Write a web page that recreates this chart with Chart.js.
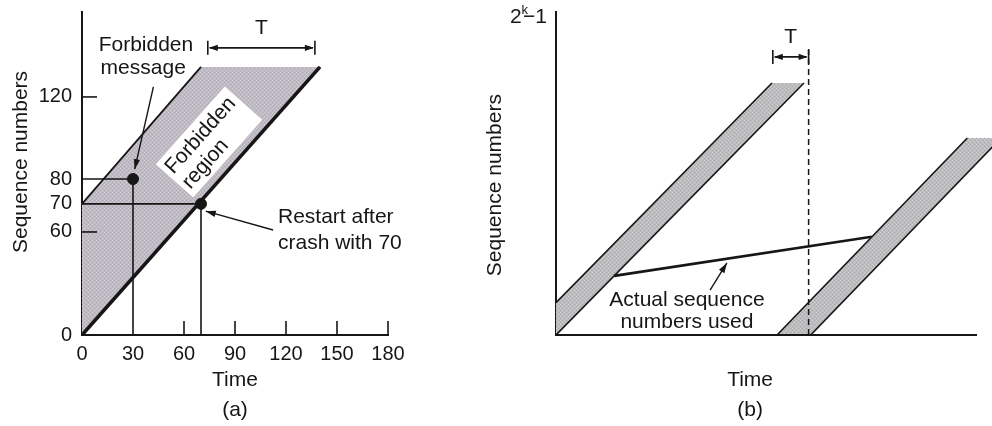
<!DOCTYPE html>
<html>
<head>
<meta charset="utf-8">
<title>Forbidden region</title>
<script src="https://cdn.jsdelivr.net/npm/chart.js@4.4.1/dist/chart.umd.min.js"></script>
<style>
  body { margin: 0; background: #fff; width: 992px; height: 426px; overflow: hidden; position: relative; }
  canvas { position: absolute; top: 0; }
  #chartA { left: 0; }
  #chartB { left: 480px; }
</style>
</head>
<body>
<canvas id="chartA" width="480" height="426"></canvas>
<canvas id="chartB" width="512" height="426"></canvas>
<script>
// ---- panel (a) ----
const timeTicksA = [0, 30, 60, 90, 120, 150, 180];
const seqTicksA = [0, 60, 70, 80, 120];
const innerTimeTicksA = [60, 90, 120, 150, 180];
const innerSeqTicksA = [60, 120];
const forbiddenRegionA = [{x: 0, y: 0}, {x: 0, y: 70}, {x: 70, y: 140}, {x: 140, y: 140}, {x: 0, y: 0}];
const lowerEdgeA = [{x: 0, y: 0}, {x: 140, y: 140}];
const upperEdgeA = [{x: 0, y: 70}, {x: 70, y: 140}];
const msgGuideA = [{x: 0, y: 80}, {x: 30, y: 80}, {x: 30, y: 0}];
const restartGuideA = [{x: 0, y: 70}, {x: 70, y: 70}, {x: 70, y: 0}];
const markedPointsA = [{x: 30, y: 80}, {x: 70, y: 70}];
const tSpanA = [74, 137];
// the drawing is not to scale: where each sequence number sits along the axis (0 = bottom, 1 = top)
const seqKnotValues = [0, 60, 70, 80, 120, 140, 170];
const seqKnotSpots = [0, 0.319, 0.406, 0.483, 0.737, 0.830, 1];

// ---- panel (b) ----
const band1B = [{x: 0, y: 0}, {x: 0, y: 10}, {x: 51.3, y: 78}, {x: 58.9, y: 78}, {x: 0, y: 0}];
const band1LowerB = [{x: 0, y: 0}, {x: 58.9, y: 78}];
const band1UpperB = [{x: 0, y: 10}, {x: 51.3, y: 78}];
const band2B = [{x: 52.5, y: 0}, {x: 97.7, y: 61}, {x: 105.7, y: 61}, {x: 60.5, y: 0}, {x: 52.5, y: 0}];
const band2LeftB = [{x: 52.5, y: 0}, {x: 97.7, y: 61}];
const band2RightB = [{x: 60.5, y: 0}, {x: 105.7, y: 61}];
const actualSeqB = [{x: 13.8, y: 18.3}, {x: 75, y: 30.4}];
const crashLineB = [{x: 60, y: 0}, {x: 60, y: 89}];
const tSpanB = [51.5, 60];

const ink = '#161616';
const fontFamily = "'Liberation Sans', Arial, Helvetica, sans-serif";
Chart.defaults.font.family = fontFamily;
Chart.defaults.color = ink;

class KnottedScale extends Chart.LinearScale {
  getPixelForValue(v) {
    const vals = seqKnotValues, spots = seqKnotSpots;
    let i = 1;
    while (i < vals.length - 1 && v > vals[i]) i++;
    const t = (v - vals[i - 1]) / (vals[i] - vals[i - 1]);
    return this.getPixelForDecimal(spots[i - 1] + t * (spots[i] - spots[i - 1]));
  }
  getValueForPixel(p) {
    const d = this.getDecimalForPixel(p);
    const vals = seqKnotValues, spots = seqKnotSpots;
    let i = 1;
    while (i < spots.length - 1 && d > spots[i]) i++;
    const t = (d - spots[i - 1]) / (spots[i] - spots[i - 1]);
    return vals[i - 1] + t * (vals[i] - vals[i - 1]);
  }
}
KnottedScale.id = 'knotted';
KnottedScale.defaults = Chart.LinearScale.defaults;
Chart.register(KnottedScale);

function stipple(base, light, dark) {
  const c = document.createElement('canvas');
  c.width = 4; c.height = 4;
  const g = c.getContext('2d');
  g.fillStyle = base; g.fillRect(0, 0, 4, 4);
  g.fillStyle = light;
  g.fillRect(0, 0, 1, 1); g.fillRect(2, 2, 1, 1);
  g.fillStyle = dark;
  g.fillRect(2, 0, 1, 1); g.fillRect(0, 2, 1, 1);
  return g.createPattern(c, 'repeat');
}

function seg(ctx, x1, y1, x2, y2) {
  ctx.beginPath(); ctx.moveTo(x1, y1); ctx.lineTo(x2, y2); ctx.stroke();
}

function arrowHead(ctx, x1, y1, x2, y2, len, half) {
  const a = Math.atan2(y2 - y1, x2 - x1);
  const bx = x2 - len * Math.cos(a), by = y2 - len * Math.sin(a);
  ctx.beginPath();
  ctx.moveTo(x2, y2);
  ctx.lineTo(bx + half * Math.sin(a), by - half * Math.cos(a));
  ctx.lineTo(bx - half * Math.sin(a), by + half * Math.cos(a));
  ctx.closePath();
  ctx.fill();
}

function arrow(ctx, x1, y1, x2, y2) {
  seg(ctx, x1, y1, x2, y2);
  arrowHead(ctx, x1, y1, x2, y2, 10, 3.2);
}

function bracket(ctx, xl, xr, yc, label) {
  seg(ctx, xl, yc - 7, xl, yc + 7);
  seg(ctx, xr, yc - 7, xr, yc + 7);
  const mid = (xl + xr) / 2;
  seg(ctx, xl + 2, yc, xr - 2, yc);
  arrowHead(ctx, mid, yc, xl + 1, yc, 9, 3.2);
  arrowHead(ctx, mid, yc, xr - 1, yc, 9, 3.2);
  ctx.textAlign = 'center';
  ctx.fillText(label, mid, yc - 20);
}

function sideTitle(ctx, text, x, y) {
  ctx.save();
  ctx.translate(x, y);
  ctx.rotate(-Math.PI / 2);
  ctx.textAlign = 'center';
  ctx.fillText(text, 0, 0);
  ctx.restore();
}

const lineDs = (data, width, order) => ({
  data, showLine: true, borderColor: ink, borderWidth: width, pointRadius: 0, fill: false, order
});

// keep the plot box exactly where the layout padding puts it
const noEdgePadding = s => { s.paddingTop = 0; s.paddingBottom = 0; s.paddingLeft = 0; s.paddingRight = 0; };

const annotA = {
  id: 'annotA',
  afterDatasetsDraw(chart) {
    const {ctx, scales: {x, y}} = chart;
    const X = v => x.getPixelForValue(v), Y = v => y.getPixelForValue(v);
    ctx.save();
    ctx.strokeStyle = ink; ctx.fillStyle = ink; ctx.lineWidth = 1.6;
    innerTimeTicksA.forEach(v => seg(ctx, X(v), Y(0), X(v), Y(0) - 14));
    innerSeqTicksA.forEach(v => seg(ctx, X(0), Y(v), X(0) + 15, Y(v)));

    ctx.font = '21px ' + fontFamily;
    ctx.textBaseline = 'middle';
    bracket(ctx, X(tSpanA[0]), X(tSpanA[1]), Y(150.4), 'T');
    sideTitle(ctx, 'Sequence numbers', X(0) - 61, Y(88.3));

    ctx.lineWidth = 1.4;
    arrow(ctx, X(42), Y(126.7), X(31), Y(84.8));
    arrow(ctx, X(112.4), Y(60.7), X(72.8), Y(67.4));

    ctx.textAlign = 'center';
    ctx.fillText('Forbidden', X(37.6), Y(152));
    ctx.fillText('message', X(36), Y(139.3));
    ctx.textAlign = 'left';
    ctx.fillText('Restart after', X(115.3), Y(65.4));
    ctx.fillText('crash with 70', X(115.3), Y(53.6));

    const ang = Math.atan2(Y(140) - Y(0), X(140) - X(0));
    ctx.translate(X(74.7), Y(98));
    ctx.rotate(ang);
    ctx.fillStyle = '#fff';
    ctx.fillRect(-52, -25, 104, 50);
    ctx.fillStyle = ink;
    ctx.textAlign = 'left';
    ctx.fillText('Forbidden', -48, -10.5);
    ctx.fillText('region', -48, 12);
    ctx.restore();
  }
};

const annotB = {
  id: 'annotB',
  afterDatasetsDraw(chart) {
    const {ctx, scales: {x, y}} = chart;
    const X = v => x.getPixelForValue(v), Y = v => y.getPixelForValue(v);
    ctx.save();
    ctx.strokeStyle = ink; ctx.fillStyle = ink;
    ctx.lineWidth = 2;
    seg(ctx, X(0), Y(0), X(100), Y(0));

    ctx.lineWidth = 1.6;
    ctx.font = '21px ' + fontFamily;
    ctx.textBaseline = 'middle';
    bracket(ctx, X(tSpanB[0]), X(tSpanB[1]), Y(86.1), 'T');
    sideTitle(ctx, 'Sequence numbers', X(0) - 61, Y(46.4));

    ctx.lineWidth = 1.4;
    arrow(ctx, X(36.6), Y(13.9), X(40.6), Y(22.3));
    ctx.textAlign = 'center';
    ctx.fillText('Actual sequence', X(31.1), Y(10.8));
    ctx.fillText('numbers used', X(31.1), Y(4.0));

    ctx.fillText('Time', X(46.1), Y(0) + 45);
    ctx.fillText('(b)', X(46.1), Y(0) + 75);

    // 2^k - 1 label at top of axis
    const r = X(0) - 9, yc = Y(98.5);
    ctx.textAlign = 'right';
    ctx.fillText('\u22121', r, yc);
    const w1 = ctx.measureText('\u22121').width;
    ctx.font = '13px ' + fontFamily;
    ctx.fillText('k', r - w1 + 5, yc - 6);
    const wk = ctx.measureText('k').width;
    ctx.font = '21px ' + fontFamily;
    ctx.fillText('2', r - w1 + 5 - wk, yc);
    ctx.restore();
  }
};

const fillA = stipple('#bfbac4', '#d2cdd6', '#afabb4');
const fillB = stipple('#bdbcbf', '#cfcfd1', '#aaa9ac');

new Chart(document.getElementById('chartA'), {
  type: 'scatter',
  data: {
    datasets: [
      {data: forbiddenRegionA, showLine: true, fill: 'shape', backgroundColor: fillA, borderColor: 'rgba(0,0,0,0)', borderWidth: 0, pointRadius: 0, order: 9},
      lineDs(lowerEdgeA, 3.6, 2),
      lineDs(upperEdgeA, 1.8, 2),
      lineDs(msgGuideA, 1.6, 3),
      lineDs(restartGuideA, 1.6, 3),
      {data: markedPointsA, showLine: false, pointRadius: 5.5, pointBackgroundColor: ink, pointBorderColor: ink, order: 1}
    ]
  },
  options: {
    responsive: false,
    animation: false,
    events: [],
    layout: {padding: {top: 12, right: 92, left: 0, bottom: 0}},
    plugins: {legend: {display: false}, tooltip: {enabled: false}},
    scales: {
      x: {
        type: 'linear', min: 0, max: 180,
        afterBuildTicks: s => { s.ticks = timeTicksA.map(v => ({value: v})); },
        afterFit: s => { s.height = 91; noEdgePadding(s); },
        grid: {display: false, drawTicks: false},
        border: {display: true, color: ink, width: 2},
        ticks: {padding: 7, font: {size: 20}, color: ink},
        title: {display: true, text: ['Time', '(a)'], font: {size: 21, lineHeight: 1.43}, color: ink, padding: {top: 0, bottom: 1}}
      },
      y: {
        type: 'knotted', min: 0, max: 170,
        afterBuildTicks: s => { s.ticks = seqTicksA.map(v => ({value: v})); },
        afterFit: s => { s.width = 82; noEdgePadding(s); },
        grid: {display: false, drawTicks: false},
        border: {display: true, color: ink, width: 2},
        ticks: {padding: 10, font: {size: 20}, color: ink}
      }
    }
  },
  plugins: [annotA]
});

new Chart(document.getElementById('chartB'), {
  type: 'scatter',
  data: {
    datasets: [
      {data: band1B, showLine: true, fill: 'shape', backgroundColor: fillB, borderColor: 'rgba(0,0,0,0)', borderWidth: 0, pointRadius: 0, order: 9},
      {data: band2B, showLine: true, fill: 'shape', backgroundColor: fillB, borderColor: 'rgba(0,0,0,0)', borderWidth: 0, pointRadius: 0, order: 9},
      lineDs(band1LowerB, 1.6, 2),
      lineDs(band1UpperB, 1.6, 2),
      lineDs(band2LeftB, 1.6, 2),
      lineDs(band2RightB, 1.6, 2),
      lineDs(actualSeqB, 2.6, 1),
      {data: crashLineB, showLine: true, borderColor: ink, borderWidth: 1.5, borderDash: [6, 4], pointRadius: 0, fill: false, order: 1}
    ]
  },
  options: {
    responsive: false,
    animation: false,
    events: [],
    layout: {padding: {top: 12, right: 0, left: 0, bottom: 0}},
    plugins: {legend: {display: false}, tooltip: {enabled: false}},
    scales: {
      x: {
        type: 'linear', min: 0, max: 103.56,
        afterFit: s => { s.height = 91; noEdgePadding(s); },
        grid: {display: false, drawTicks: false},
        border: {display: false},
        ticks: {display: false}
      },
      y: {
        type: 'linear', min: 0, max: 100,
        afterFit: s => { s.width = 76; noEdgePadding(s); },
        grid: {display: false, drawTicks: false},
        border: {display: true, color: ink, width: 2},
        ticks: {display: false}
      }
    }
  },
  plugins: [annotB]
});
</script>
</body>
</html>
